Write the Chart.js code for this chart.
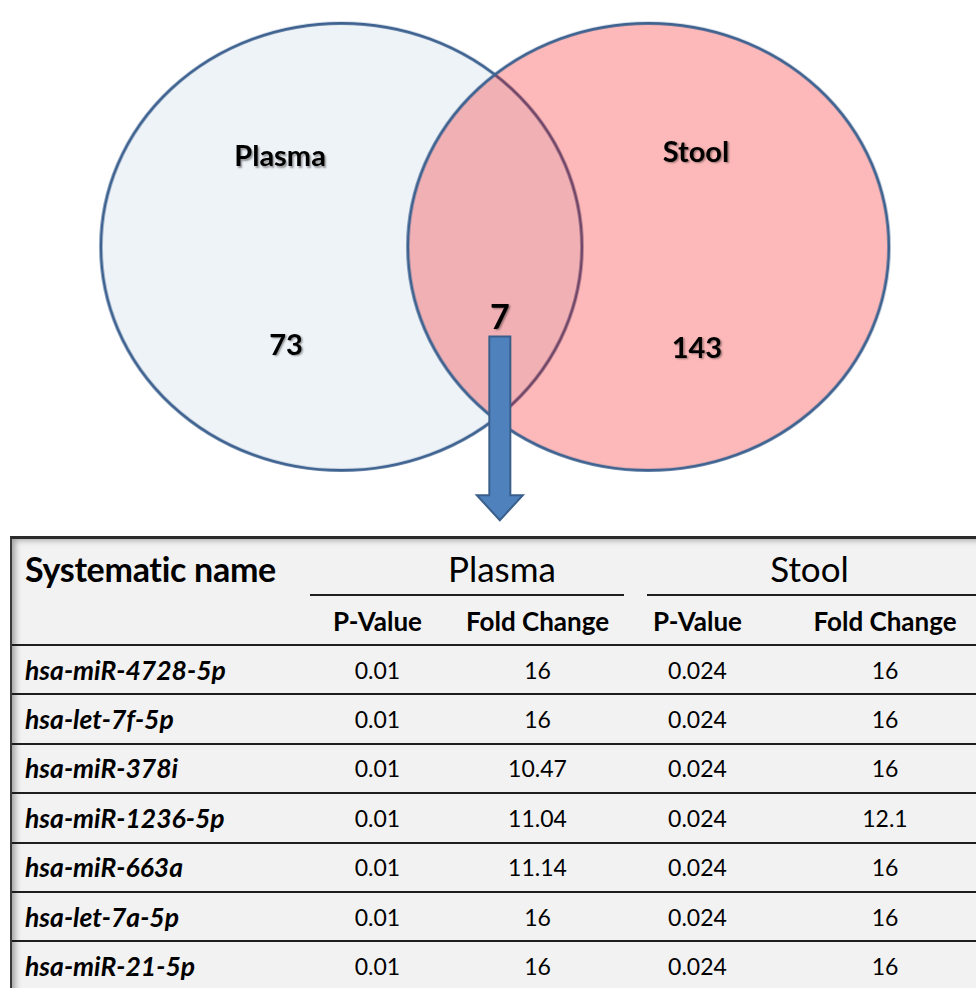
<!DOCTYPE html>
<html>
<head>
<meta charset="utf-8">
<script src="https://cdn.jsdelivr.net/npm/chart.js"></script>
<style>
    body {
        margin: 0;
        width: 976px;
        height: 988px;
        overflow: hidden;
        position: relative;
        background: #ffffff;
        font-family: Lato, "Open Sans", sans-serif;
        color: #000;
    }
    #venn {
        position: absolute;
        left: 0;
        top: 0;
    }
    #tableBox {
        position: absolute;
        left: 10px;
        top: 536px;
        width: 1000px;
        height: 470px;
        background: #f2f2f2;
        border-top: 3px solid #2b2b2b;
        border-left: 2px solid #3a3a3a;
        box-shadow: inset 5px 3px 6px -2px rgba(0, 0, 0, 0.35);
    }
    .row {
        display: grid;
        grid-template-columns: 298px 135px 185px 135px 240px;
        box-sizing: border-box;
        align-items: center;
    }
    .head { height: 58px; }
    .sub { height: 49px; border-bottom: 2px solid #1e1e1e; }
    .data { height: 49.4px; border-bottom: 2px solid #1e1e1e; }
    .row div { text-align: center; white-space: nowrap; }
    .head .name { font-size: 34px; font-weight: bold; text-align: left; padding-left: 13px; letter-spacing: -0.3px; }
    .group { grid-column: span 2; height: 58px; position: relative; font-size: 35px; }
    .group span { position: absolute; top: 8px; left: 0; right: 0; }
    .group i { position: absolute; bottom: 1px; height: 2px; background: #1e1e1e; }
    .sub div { font-size: 26px; font-weight: bold; }
    .data .name { font-size: 26.5px; font-weight: bold; font-style: italic; text-align: left; padding-left: 13px; }
    .data div { font-size: 23px; }
</style>
</head>
<body>
<canvas id="venn" width="976" height="530"></canvas>
<div id="tableBox"></div>
<script>
// Venn counts
const setNames = ['Plasma', 'Stool'];
const setOnlyCounts = [73, 143];
const sharedCount = 7;

// table of the shared miRNAs
const mirNames = ['hsa-miR-4728-5p', 'hsa-let-7f-5p', 'hsa-miR-378i', 'hsa-miR-1236-5p',
    'hsa-miR-663a', 'hsa-let-7a-5p', 'hsa-miR-21-5p'];
const plasmaP = [0.01, 0.01, 0.01, 0.01, 0.01, 0.01, 0.01];
const plasmaFC = [16, 16, 10.47, 11.04, 11.14, 16, 16];
const stoolP = [0.024, 0.024, 0.024, 0.024, 0.024, 0.024, 0.024];
const stoolFC = [16, 16, 16, 12.1, 16, 16, 16];
const subHeaders = ['P-Value', 'Fold Change'];

// layout of the diagram (in scale units)
const ellipseCx = [-0.607, 0.664];
const ellipseRx = 0.996, ellipseRy = 0.934;
const ellipseFill = ['#eef3f8', 'rgba(248, 5, 5, 0.28)'];
const ellipseStroke = '#3e6290';
const nameLabelPos = [[-0.861, 0.375], [0.861, 0.395]];
const countLabelPos = [[-0.836, -0.412], [0.865, -0.424]];
const sharedLabelPos = [0.049, -0.297];
const arrowFrom = [0.049, -0.375], arrowTo = [0.049, -1.142];

function ellipseImage(chart, i) {
    const xs = chart.scales.x, ys = chart.scales.y;
    const rx = Math.abs(xs.getPixelForValue(ellipseRx) - xs.getPixelForValue(0));
    const ry = Math.abs(ys.getPixelForValue(ellipseRy) - ys.getPixelForValue(0));
    const c = document.createElement('canvas');
    c.width = Math.ceil(rx * 2 + 6);
    c.height = Math.ceil(ry * 2 + 6);
    const g = c.getContext('2d');
    g.beginPath();
    g.ellipse(c.width / 2, c.height / 2, rx, ry, 0, 0, Math.PI * 2);
    g.fillStyle = ellipseFill[i];
    g.fill();
    g.lineWidth = 3;
    g.strokeStyle = ellipseStroke;
    g.stroke();
    return c;
}

const vennText = {
    id: 'vennText',
    afterDatasetsDraw(chart) {
        const ctx = chart.ctx, xs = chart.scales.x, ys = chart.scales.y;
        const px = p => [xs.getPixelForValue(p[0]), ys.getPixelForValue(p[1])];

        // arrow down to the table
        const a = px(arrowFrom), b = px(arrowTo);
        const sw = 10.5, hw = 23, hl = 25;
        ctx.save();
        ctx.beginPath();
        ctx.moveTo(a[0] - sw, a[1]);
        ctx.lineTo(a[0] + sw, a[1]);
        ctx.lineTo(a[0] + sw, b[1] - hl);
        ctx.lineTo(a[0] + hw, b[1] - hl);
        ctx.lineTo(b[0], b[1]);
        ctx.lineTo(a[0] - hw, b[1] - hl);
        ctx.lineTo(a[0] - sw, b[1] - hl);
        ctx.closePath();
        ctx.fillStyle = '#4f81bd';
        ctx.fill();
        ctx.lineWidth = 2;
        ctx.strokeStyle = '#3a5f8b';
        ctx.stroke();
        ctx.restore();

        ctx.save();
        ctx.textAlign = 'center';
        ctx.textBaseline = 'middle';
        ctx.fillStyle = '#000';
        ctx.shadowColor = 'rgba(0, 0, 0, 0.4)';
        ctx.shadowOffsetX = 1.5;
        ctx.shadowOffsetY = 1.5;
        ctx.shadowBlur = 2;
        ctx.font = 'bold 29px Lato';
        setNames.forEach((n, i) => {
            const p = px(nameLabelPos[i]);
            ctx.fillText(n, p[0], p[1]);
        });
        setOnlyCounts.forEach((n, i) => {
            const p = px(countLabelPos[i]);
            ctx.fillText(String(n), p[0], p[1]);
        });
        ctx.font = 'bold 34px Lato';
        const s = px(sharedLabelPos);
        ctx.fillText(String(sharedCount), s[0], s[1]);
        ctx.restore();
    }
};

new Chart(document.getElementById('venn'), {
    type: 'scatter',
    data: {
        datasets: [{
            data: setNames.map((n, i) => ({ x: ellipseCx[i], y: 0 })),
            pointRadius: 1,
            pointStyle: ctx => ellipseImage(ctx.chart, ctx.dataIndex)
        }]
    },
    options: {
        responsive: false,
        animation: false,
        events: [],
        layout: { padding: 0 },
        plugins: { legend: { display: false }, tooltip: { enabled: false } },
        scales: {
            x: { type: 'linear', display: false, min: -2, max: 2 },
            y: { type: 'linear', display: false, min: -1.162, max: 1.010 }
        }
    },
    plugins: [vennText]
});

// table
const box = document.getElementById('tableBox');
let html = '<div class="row head"><div class="name">Systematic name</div>' +
    '<div class="group"><span style="padding-left:64px">' + setNames[0] + '</span><i style="left:0;right:6px"></i></div>' +
    '<div class="group"><span style="padding-right:16px">' + setNames[1] + '</span><i style="left:17px;right:0"></i></div></div>';
html += '<div class="row sub"><div></div>' + subHeaders.concat(subHeaders).map(h => '<div>' + h + '</div>').join('') + '</div>';
mirNames.forEach((n, i) => {
    html += '<div class="row data"><div class="name">' + n + '</div>' +
        [plasmaP[i], plasmaFC[i], stoolP[i], stoolFC[i]].map(v => '<div>' + v + '</div>').join('') + '</div>';
});
box.innerHTML = html;
</script>
</body>
</html>
